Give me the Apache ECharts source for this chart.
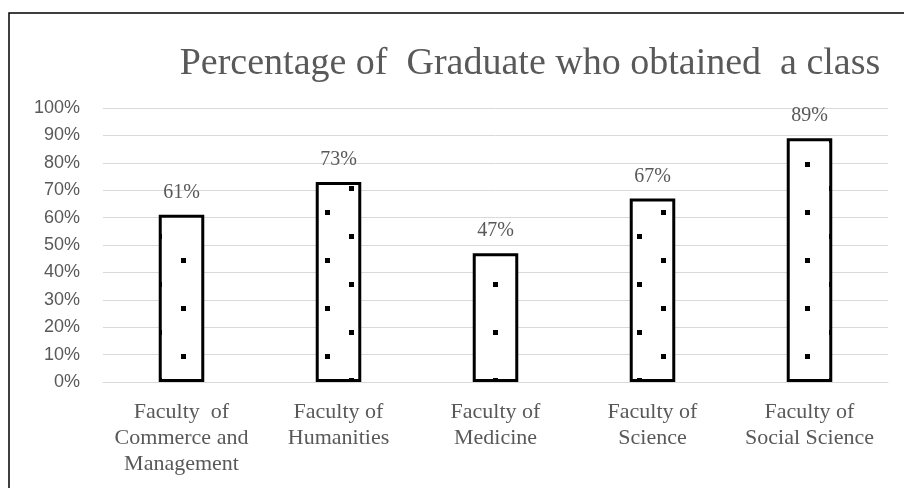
<!DOCTYPE html>
<html><head><meta charset="utf-8">
<script src="https://cdn.jsdelivr.net/npm/echarts@6/dist/echarts.min.js"></script>
<style>html,body{margin:0;padding:0;background:#fff}#c{width:904px;height:488px}</style>
</head><body><div id="c"></div>
<script>
const titleText = 'Percentage of  Graduate who obtained  a class';
const categories = ['Faculty  of\nCommerce and\nManagement', 'Faculty of\nHumanities', 'Faculty of\nMedicine', 'Faculty of\nScience', 'Faculty of\nSocial Science'];
const values = [61, 73, 47, 67, 89];
const yTicks = [0, 10, 20, 30, 40, 50, 60, 70, 80, 90, 100];

// dotted fill pattern
const pc = document.createElement('canvas');
pc.width = 48; pc.height = 48;
const px = pc.getContext('2d');
px.fillStyle = '#fff'; px.fillRect(0, 0, 48, 48);
px.fillStyle = '#000';
px.fillRect(37, 18, 5, 5);
px.fillRect(13, 42, 5, 5);

const chart = echarts.init(document.getElementById('c'), null, {renderer: 'canvas'});
chart.setOption({
  animation: false,
  backgroundColor: '#fff',
  title: {
    text: titleText, left: 525, textAlign: 'center', top: 40,
    textStyle: {fontFamily: 'Liberation Serif', fontWeight: 'normal', fontSize: 38, color: '#595959'}
  },
  graphic: [{type: 'rect', shape: {x: 9, y: 13, width: 1000, height: 1000}, style: {fill: 'none', stroke: '#000', lineWidth: 1.5}, silent: true}],
  grid: {left: 103, right: 16, top: 108, bottom: 106, containLabel: false},
  xAxis: {
    type: 'category', data: categories,
    axisLine: {show: true, lineStyle: {color: '#d9d9d9', width: 1}},
    axisTick: {show: false},
    axisLabel: {fontFamily: 'Liberation Serif', fontSize: 22, color: '#595959', lineHeight: 26, margin: 17, interval: 0}
  },
  yAxis: {
    type: 'value', min: yTicks[0], max: yTicks[yTicks.length - 1], interval: 10,
    axisLine: {show: false}, axisTick: {show: false},
    splitLine: {lineStyle: {color: '#d9d9d9', width: 1}},
    axisLabel: {formatter: v => v + '%', fontFamily: 'Liberation Sans', fontSize: 18, color: '#595959', margin: 23}
  },
  series: [{
    type: 'bar', data: values, barWidth: '29%',
    itemStyle: {color: {image: pc, repeat: 'repeat'}, borderColor: '#000', borderWidth: 3},
    label: {show: true, position: 'top', distance: 12, formatter: p => p.value + '%', fontFamily: 'Liberation Serif', fontSize: 20, color: '#595959'}
  }]
});
</script></body></html>
